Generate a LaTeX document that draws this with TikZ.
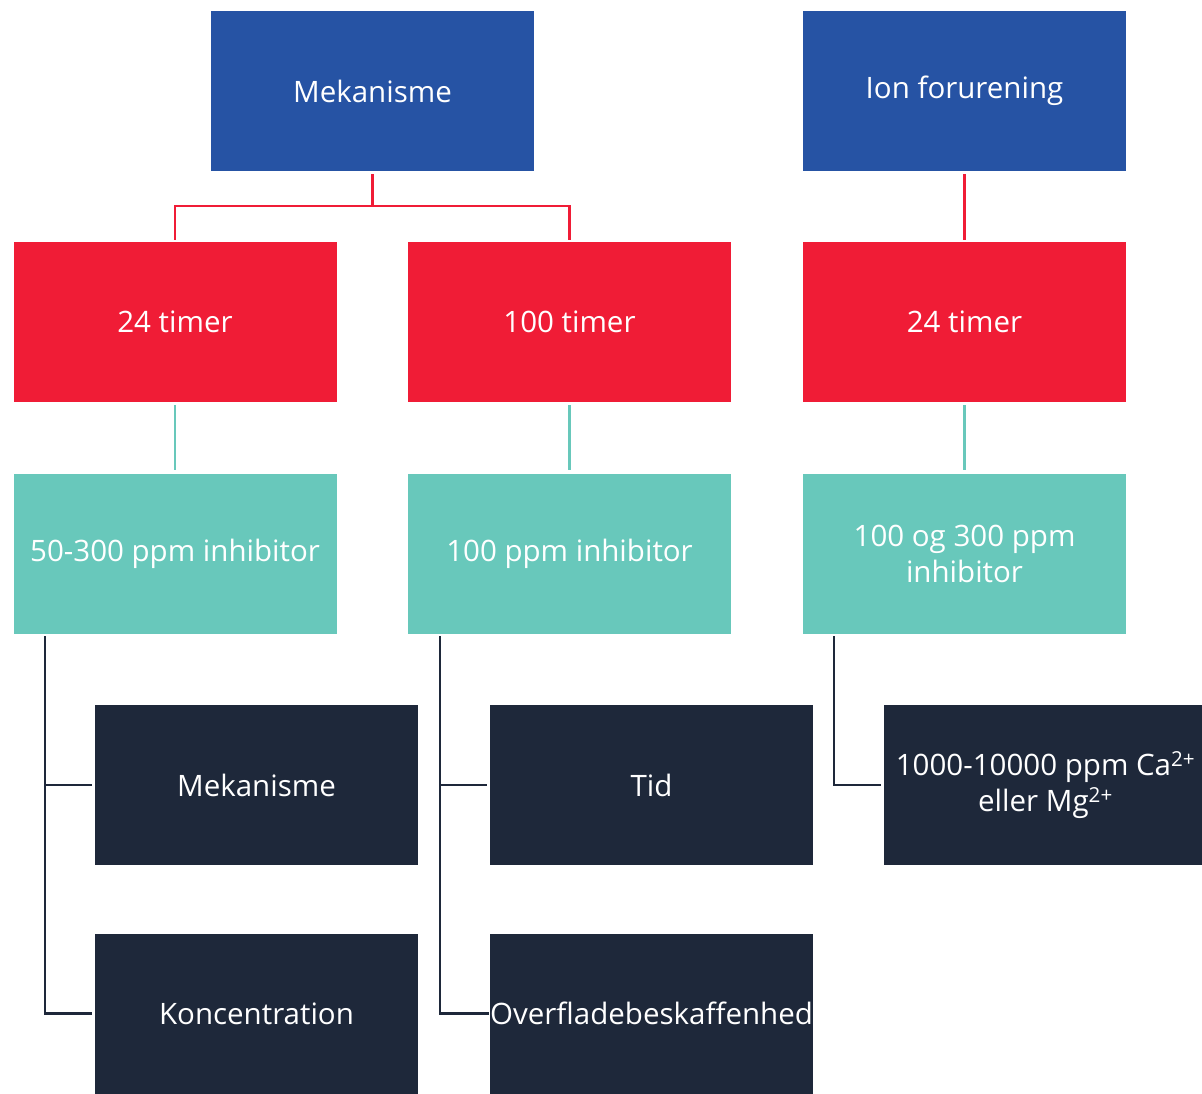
\documentclass[tikz,border=0pt]{standalone}
\usepackage{fontspec}
\setmainfont{Open Sans}
\definecolor{cblue}{HTML}{2653A4}
\definecolor{cred}{HTML}{F01C36}
\definecolor{cteal}{HTML}{68C8BB}
\definecolor{cdark}{HTML}{1E283A}
\begin{document}
\begin{tikzpicture}[x=1pt,y=-1pt,
  box/.style={draw=none,minimum width=323pt,minimum height=160pt,inner sep=0pt,text=white,
    font=\fontsize{29.5}{36}\selectfont,align=center},
  bluebox/.style={box,fill=cblue},
  redbox/.style={box,fill=cred},
  tealbox/.style={box,fill=cteal},
  darkbox/.style={box,fill=cdark},
  redline/.style={draw=cred,line width=2.5pt},
  tealline/.style={draw=cteal,line width=2.5pt},
  darkline/.style={draw=cdark,line width=2.5pt}]
\useasboundingbox[fill=white] (0,0) rectangle (1202,1093);
\node[bluebox] (mek) at (372.5,91) {Mekanisme};
\node[bluebox] (ion) at (964.5,91) {Ion forurening};
\node[redbox] (r1) at (175,322) {24 timer};
\node[redbox] (r2) at (569.5,322) {100 timer};
\node[redbox] (r3) at (964.5,322) {24 timer};
\node[tealbox] (t1) at (175,553.5) {50-300 ppm inhibitor};
\node[tealbox] (t2) at (569.5,553.5) {100 ppm inhibitor};
\node[tealbox] (t3) at (964.5,553.5) {100 og 300 ppm\\inhibitor};
\node[darkbox] (d1) at (256.5,785) {Mekanisme};
\node[darkbox] (d2) at (651.5,785) {Tid};
\node[darkbox] (d3) at (1045.5,785) {1000-10000 ppm Ca\textsuperscript{2+}\\eller Mg\textsuperscript{2+}};
\node[darkbox] (d4) at (256.5,1013.5) {Koncentration};
\node[darkbox] (d5) at (651.5,1013.5) {Overfladebeskaffenhed};
% red connectors
\coordinate (jm) at (372.5,206);
\draw[redline] ([yshift=-3pt]mek.south) -- (jm);
\draw[redline] (jm) -| ([yshift=2pt]r1.north);
\draw[redline] (jm) -| ([yshift=2pt]r2.north);
\draw[redline] ([yshift=-3pt]ion.south) -- ([yshift=2pt]r3.north);
% teal connectors
\draw[tealline] ([yshift=-3pt]r1.south) -- ([yshift=3pt]t1.north);
\draw[tealline] ([yshift=-3pt]r2.south) -- ([yshift=3pt]t2.north);
\draw[tealline] ([yshift=-3pt]r3.south) -- ([yshift=3pt]t3.north);
% dark connectors
\draw[darkline] (45,636) |- ([xshift=-3pt]d4.west);
\draw[darkline] (45,785) -- ([xshift=-3pt]d1.west);
\draw[darkline] (440,636) |- ([xshift=-1pt]d5.west);
\draw[darkline] (440,785) -- ([xshift=-3pt]d2.west);
\draw[darkline] (834,636) |- ([xshift=-3pt]d3.west);
\end{tikzpicture}
\end{document}
